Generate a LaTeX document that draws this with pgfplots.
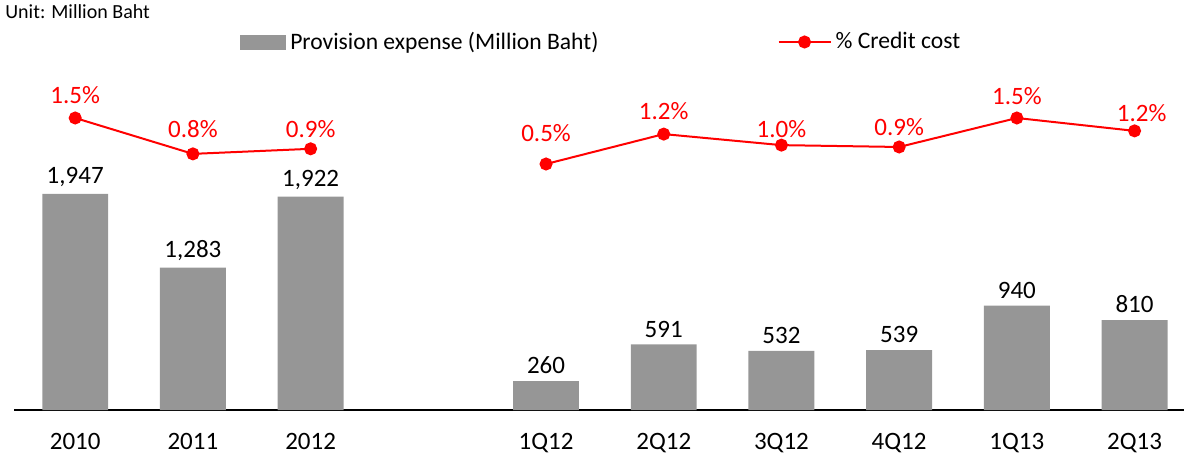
\documentclass[border=0pt]{standalone}
\usepackage{pgfplots}
\pgfplotsset{compat=1.18}
\usepackage{pgfplotstable}
\usepackage{fontspec}
\setmainfont{Carlito}
\usetikzlibrary{calc}
\definecolor{bargray}{RGB}{150,150,150}
\definecolor{cred}{RGB}{255,0,0}

% provision expense, million baht (x=3 left empty as the gap)
\pgfplotstableread{
x val
0 1947
1 1283
2 1922
4 260
5 591
6 532
7 539
8 940
9 810
}\provision

% credit cost, annual and quarterly segments
\pgfplotstableread{
x pct
0 1.50
1 0.72
2 0.83
}\ccyear
\pgfplotstableread{
x pct
4 0.50
5 1.15
6 0.91
7 0.87
8 1.50
9 1.22
}\ccqtr
% where the percent labels sit (same units as the line)
\pgfplotstableread{
x y lab
0 2.00 1.5
1 1.26 0.8
2 1.26 0.9
4 1.17 0.5
5 1.65 1.2
6 1.26 1.0
7 1.30 0.9
8 1.98 1.5
9.06 1.61 1.2
}\cclabels

\begin{document}
\begin{tikzpicture}
\begin{axis}[
  scale only axis, width=585pt, height=175pt,
  xmin=-0.52, xmax=9.42, ymin=0, ymax=3153,
  axis x line*=bottom, axis y line=none,
  x axis line style={black, line width=0.7pt, -},
  xtick={0,1,2,4,5,6,7,8,9},
  xticklabels={2010,2011,2012,1Q12,2Q12,3Q12,4Q12,1Q13,2Q13},
  major tick length=0pt,
  xticklabel style={font=\fontsize{12.5}{15}\selectfont, yshift=-8pt},
  ybar, bar width=0.56,
  clip=false,
  /pgf/number format/1000 sep={,},
  /pgf/number format/assume math mode=true,
]
  \addplot[fill=bargray, draw=none,
    nodes near coords,
    nodes near coords style={black, font=\fontsize{12.5}{15}\selectfont}]
    table[x=x, y=val] {\provision};
  \coordinate (bl) at (rel axis cs:0,0);
  \coordinate (tr) at (rel axis cs:1,1);
\end{axis}

\begin{axis}[
  scale only axis, width=585pt, height=175pt,
  xmin=-0.52, xmax=9.42, ymin=-4.848, ymax=2.761,
  hide axis, clip=false,
  legend columns=2,
  legend style={at={(0.1932,1.0514)}, anchor=west, draw=none, fill=none,
    inner sep=0pt, font=\fontsize{11.8}{14}\selectfont,
    /tikz/every even column/.append style={column sep=87.5pt}},
]
  \addlegendimage{legend image code/.code={\fill[bargray] (0pt,-3.5pt) rectangle (22.5pt,3.5pt);}}
  \addlegendentry{Provision expense (Million Baht)}
  \addplot[cred, line width=1pt, mark=*, mark size=2.75pt,
    legend image code/.code={\draw[mark repeat=2,mark phase=2] plot coordinates {(0pt,0pt) (13pt,0pt) (26pt,0pt)};}]
    table[x=x, y=pct] {\ccyear};
  \addlegendentry{\% Credit cost}
  \addplot[cred, line width=1pt, mark=*, mark size=2.75pt, forget plot]
    table[x=x, y=pct] {\ccqtr};
  \addplot[draw=none, mark=none, forget plot,
    point meta=explicit symbolic,
    nodes near coords={\pgfplotspointmeta\%},
    nodes near coords style={cred, anchor=center, inner sep=0pt,
      font=\fontsize{12.5}{15}\selectfont}]
    table[x=x, y=y, meta=lab] {\cclabels};
\end{axis}

\node[anchor=west, inner sep=0pt, font=\fontsize{10}{12}\selectfont]
  at ($(bl)+(-4.5pt,199pt)$) {Unit: Million Baht};

\pgfresetboundingbox
\path ($(bl)+(-7pt,-26pt)$) rectangle ($(tr)+(5pt,30pt)$);
\end{tikzpicture}
\end{document}
